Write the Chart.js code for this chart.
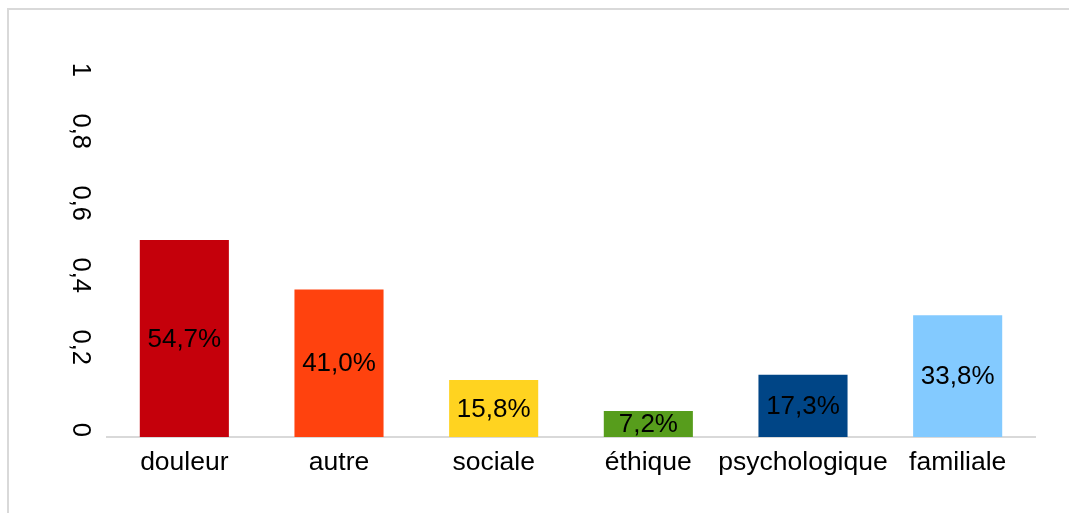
<!DOCTYPE html>
<html>
<head>
<meta charset="utf-8">
<script src="https://cdn.jsdelivr.net/npm/chart.js@4.4.1/dist/chart.umd.min.js"></script>
<style>
  html, body { margin: 0; padding: 0; background: #fff; overflow: hidden; }
  #wrap { position: relative; width: 1069px; height: 513px; }
  #frame { position: absolute; left: 7px; top: 8px; width: 1200px; height: 700px;
           border-left: 2px solid #d9d9d9; border-top: 2px solid #d9d9d9; }
  canvas { position: absolute; left: 0; top: 0; }
</style>
</head>
<body>
<div id="wrap">
  <div id="frame"></div>
  <canvas id="c" width="1069" height="513"></canvas>
</div>
<script>
const categories = ["douleur", "autre", "sociale", "éthique", "psychologique", "familiale"];
const values = [0.547, 0.410, 0.158, 0.072, 0.173, 0.338];
const barColors = ["#c5000b", "#ff420e", "#ffd320", "#579d1c", "#004586", "#83caff"];
const yTicks = [0, 0.2, 0.4, 0.6, 0.8, 1];

const FONT = "'Liberation Sans', Arial, sans-serif";
const fmtNum = v => String(Math.round(v * 10) / 10).replace('.', ',');
const fmtPct = v => (v * 100).toFixed(1).replace('.', ',') + '%';

const labelPlugin = {
  id: 'barLabels',
  afterDatasetsDraw(chart) {
    const ctx = chart.ctx;
    const meta = chart.getDatasetMeta(0);
    ctx.save();
    ctx.font = "26px " + FONT;
    ctx.fillStyle = "#000";
    ctx.textAlign = "center";
    ctx.textBaseline = "middle";
    meta.data.forEach((el, i) => {
      const p = el.getProps(['x', 'y', 'base'], true);
      ctx.fillText(fmtPct(values[i]), p.x, (p.y + p.base) / 2 + 1);
    });
    ctx.restore();
  }
};

new Chart(document.getElementById('c'), {
  type: 'bar',
  data: {
    labels: categories,
    datasets: [{
      data: values,
      backgroundColor: barColors,
      borderWidth: 0,
      barPercentage: 0.576,
      categoryPercentage: 1.0
    }]
  },
  options: {
    responsive: false,
    animation: false,
    devicePixelRatio: 1,
    layout: { padding: { top: 77, right: 34, bottom: 0, left: 0 } },
    plugins: { legend: { display: false }, tooltip: { enabled: false } },
    scales: {
      x: {
        grid: { display: false, drawTicks: false },
        border: { display: true, color: '#d9d9d9', width: 2 },
        ticks: { color: '#000', font: { family: FONT, size: 26.5 }, padding: 10, autoSkip: false, maxRotation: 0, minRotation: 0 },
        afterFit(scale) { scale.height = 76; }
      },
      y: {
        min: 0, max: 1,
        afterBuildTicks(scale) { scale.ticks = yTicks.map(v => ({ value: v })); },
        grid: { display: false, drawTicks: false },
        border: { display: false },
        ticks: {
          color: '#000', font: { family: FONT, size: 25.5 }, padding: 27,
          minRotation: -90, maxRotation: -90,
          callback: v => fmtNum(v)
        },
        afterFit(scale) { scale.width = 107; }
      }
    }
  },
  plugins: [labelPlugin]
});
</script>
</body>
</html>
